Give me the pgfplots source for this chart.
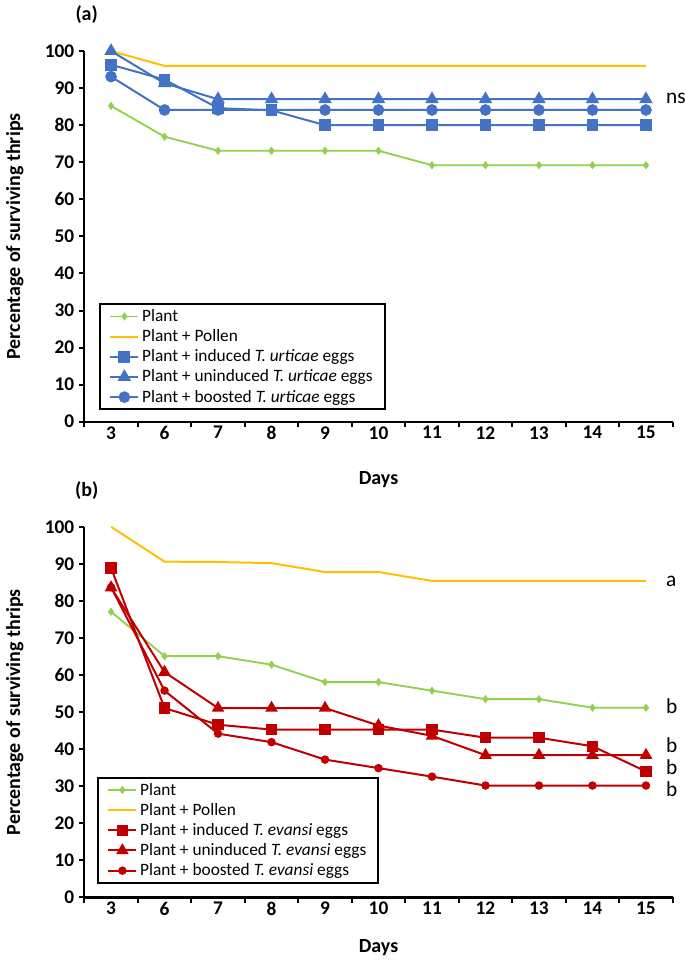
\documentclass[border=0pt]{standalone}
\usepackage{fontspec}
\setmainfont{Carlito}
\usepackage{pgfplots}
\pgfplotsset{compat=1.18}
\definecolor{cblue}{HTML}{4472C4}
\definecolor{cgreen}{HTML}{92D050}
\definecolor{corange}{HTML}{FFC000}
\definecolor{cred}{HTML}{C00000}
\pgfplotsset{
 panel/.style={
  scale only axis, width=441.3pt, height=278pt,
  xmin=-0.5, xmax=10.5, ymin=0, ymax=100,
  axis x line*=bottom, axis y line*=left,
  axis line style={-, line width=1.6pt, black},
  xtick={-0.5,0.5,...,10.5}, xticklabels={},
  extra x ticks={0,1,2,3,4,5,6,7,8,9,10},
  extra x tick labels={3,6,7,8,9,10,11,12,13,14,15},
  extra x tick style={major tick length=0pt},
  ytick={0,10,...,100},
  tick align=outside, major tick length=4pt,
  tick style={line width=1.5pt, black},
  ticklabel style={font=\bfseries\fontsize{14.5}{14.5}\selectfont},
  /pgf/number format/assume math mode=true,
  clip=false,
  xlabel={Days}, ylabel={Percentage of surviving thrips},
  every axis y label/.style={at={(axis description cs:-0.118,0.5)}, rotate=90, anchor=center, font=\bfseries\fontsize{15}{15}\selectfont},
  legend cell align=left,
  legend image code/.code={\draw[mark repeat=2,mark phase=2] plot coordinates {(0cm,0cm)(0.37cm,0cm)(0.74cm,0cm)};},
  legend style={draw=black, line width=1.5pt, font=\fontsize{13}{15}\selectfont, inner xsep=7pt, inner ysep=2pt, row sep=0.6pt},
 },
 plant/.style={cgreen, line width=1.4pt, mark=diamond*, mark size=2pt},
 pollen/.style={corange, line width=1.5pt, no marks},
}
\begin{document}
\begin{tikzpicture}
\path[use as bounding box] (0,0) rectangle (513.75pt,-720.75pt);
\node[font=\bfseries\fontsize{15}{15}\selectfont] at (65pt,-11pt) {(a)};
\node[font=\bfseries\fontsize{15}{15}\selectfont] at (65pt,-368pt) {(b)};
\begin{axis}[panel, at={(63.23pt,-316.28pt)}, anchor=south west,
  every axis x label/.style={at={(axis description cs:0.5,-0.157)}, anchor=center, font=\bfseries\fontsize{15}{15}\selectfont},
  legend style={at={(0.025,0.32)}, anchor=north west}]
\addplot[plant] coordinates {(0,85.2)(1,76.9)(2,73.1)(3,73.1)(4,73.1)(5,73.1)(6,69.2)(7,69.2)(8,69.2)(9,69.2)(10,69.2)};
\addlegendentry{Plant}
\addplot[pollen] coordinates {(0,100)(1,96)(2,96)(3,96)(4,96)(5,96)(6,96)(7,96)(8,96)(9,96)(10,96)};
\addlegendentry{Plant + Pollen}
\addplot[cblue, line width=1.5pt, mark=square*, mark size=3.7pt] coordinates {(0,96.3)(1,92.3)(2,84.6)(3,84.0)(4,80)(5,80)(6,80)(7,80)(8,80)(9,80)(10,80)};
\addlegendentry{Plant + induced \textit{T. urticae} eggs}
\addplot[cblue, line width=1.5pt, mark=triangle*, mark size=4.4pt] coordinates {(0,100)(1,91.3)(2,87)(3,87)(4,87)(5,87)(6,87)(7,87)(8,87)(9,87)(10,87)};
\addlegendentry{Plant + uninduced \textit{T. urticae} eggs}
\addplot[cblue, line width=1.5pt, mark=*, mark size=3.6pt] coordinates {(0,93.1)(1,84.1)(2,84.1)(3,84.1)(4,84.1)(5,84.1)(6,84.1)(7,84.1)(8,84.1)(9,84.1)(10,84.1)};
\addlegendentry{Plant + boosted \textit{T. urticae} eggs}
\node[anchor=west, font=\fontsize{16}{16}\selectfont] at (axis cs:10.29,87.2) {ns};
\end{axis}
\begin{axis}[panel, at={(63.23pt,-673.1pt)}, anchor=south west,
  every axis x label/.style={at={(axis description cs:0.5,-0.136)}, anchor=center, font=\bfseries\fontsize{15}{15}\selectfont},
  legend style={at={(0.0216,0.326)}, anchor=north west}]
\addplot[plant] coordinates {(0,77.1)(1,65.1)(2,65.1)(3,62.8)(4,58.1)(5,58.1)(6,55.8)(7,53.5)(8,53.5)(9,51.2)(10,51.2)};
\addlegendentry{Plant}
\addplot[pollen] coordinates {(0,100)(1,90.6)(2,90.5)(3,90.2)(4,87.8)(5,87.8)(6,85.4)(7,85.4)(8,85.4)(9,85.4)(10,85.4)};
\addlegendentry{Plant + Pollen}
\addplot[cred, line width=1.5pt, mark=square*, mark size=3.5pt] coordinates {(0,88.9)(1,51.1)(2,46.6)(3,45.3)(4,45.3)(5,45.3)(6,45.3)(7,43.1)(8,43.1)(9,40.8)(10,34.0)};
\addlegendentry{Plant + induced \textit{T. evansi} eggs}
\addplot[cred, line width=1.5pt, mark=triangle*, mark size=4pt] coordinates {(0,83.6)(1,60.8)(2,51.1)(3,51.1)(4,51.1)(5,46.4)(6,43.6)(7,38.4)(8,38.4)(9,38.4)(10,38.4)};
\addlegendentry{Plant + uninduced \textit{T. evansi} eggs}
\addplot[cred, line width=1.5pt, mark=*, mark size=2.4pt] coordinates {(0,83.7)(1,55.8)(2,44.2)(3,41.9)(4,37.2)(5,34.9)(6,32.6)(7,30.2)(8,30.2)(9,30.2)(10,30.2)};
\addlegendentry{Plant + boosted \textit{T. evansi} eggs}
\node[anchor=west, font=\fontsize{16}{16}\selectfont] at (axis cs:10.29,85.4) {a};
\node[anchor=west, font=\fontsize{16}{16}\selectfont] at (axis cs:10.29,51.6) {b};
\node[anchor=west, font=\fontsize{16}{16}\selectfont] at (axis cs:10.29,41.2) {b};
\node[anchor=west, font=\fontsize{16}{16}\selectfont] at (axis cs:10.29,35.2) {b};
\node[anchor=west, font=\fontsize{16}{16}\selectfont] at (axis cs:10.29,29.1) {b};
\end{axis}
\end{tikzpicture}
\end{document}
